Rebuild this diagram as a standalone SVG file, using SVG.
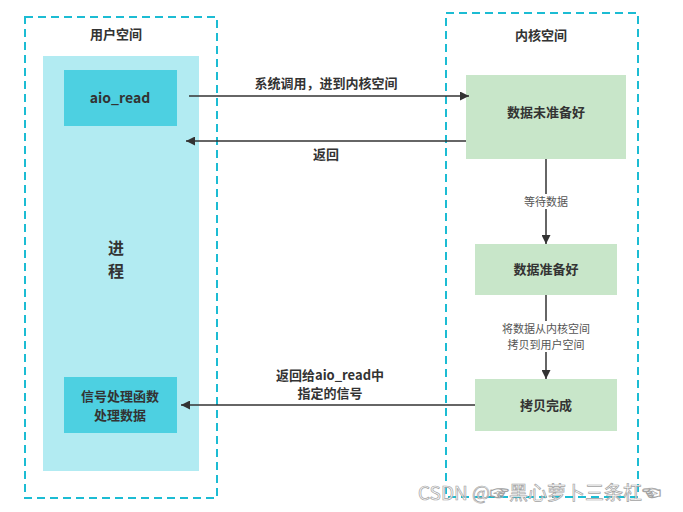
<svg xmlns="http://www.w3.org/2000/svg" width="683" height="512" viewBox="0 0 683 512">
<defs>
<style>
.dash{fill:none;stroke:#1CBCD3;stroke-width:2;stroke-dasharray:8,5}
.t{font-family:"Noto Sans CJK SC","Noto Sans",sans-serif;fill:#333;text-anchor:middle}
.b{font-weight:bold;font-size:13px}
.s{font-size:11px;fill:#555}
.ln{stroke:#333;stroke-width:1.5;fill:none}
.cy{fill:#4DD0E1}
.gr{fill:#C8E6C9}
</style>
<marker id="ah" viewBox="0 0 10 10" refX="10" refY="5" markerWidth="9" markerHeight="9" markerUnits="userSpaceOnUse" orient="auto">
<path d="M0,0 L10,5 L0,10 z" fill="#333"/>
</marker>
</defs>
<rect width="683" height="512" fill="#fff"/>
<g id="user-space">
<rect class="dash" x="25" y="17" width="192" height="481"/>
<text class="t b" x="116" y="39">用户空间</text>
</g>
<g id="kernel-space">
<rect class="dash" x="446" y="13" width="192" height="484"/>
<text class="t b" x="541" y="40">内核空间</text>
</g>
<g id="process">
<rect x="43" y="56" width="156" height="415" fill="#B2EBF2"/>
<text class="t" x="116" y="254" style="font-weight:bold;font-size:16px">进</text>
<text class="t" x="116" y="277" style="font-weight:bold;font-size:16px">程</text>
</g>
<g id="aio_read">
<rect class="cy" x="64" y="70" width="113" height="56"/>
<text class="t" x="120" y="103" style="font-weight:bold;font-size:14px">aio_read</text>
</g>
<g id="signal">
<rect class="cy" x="64" y="377" width="113" height="56"/>
<text class="t b" x="120" y="401">信号处理函数</text>
<text class="t b" x="120" y="420">处理数据</text>
</g>
<g id="not-ready">
<rect class="gr" x="466" y="75" width="160" height="84"/>
<text class="t b" x="546" y="117">数据未准备好</text>
</g>
<g id="ready">
<rect class="gr" x="475" y="244" width="142" height="51"/>
<text class="t b" x="546" y="274">数据准备好</text>
</g>
<g id="copied">
<rect class="gr" x="475" y="379" width="142" height="52"/>
<text class="t b" x="546" y="410">拷贝完成</text>
</g>
<g id="connectors">
<line class="ln" x1="189" y1="96" x2="469" y2="96" marker-end="url(#ah)"/>
<text class="t b" x="326" y="88">系统调用，进到内核空间</text>
<line class="ln" x1="466" y1="141" x2="186" y2="141" marker-end="url(#ah)"/>
<text class="t b" x="326" y="159">返回</text>
<line class="ln" x1="546" y1="159" x2="546" y2="244" marker-end="url(#ah)"/>
<rect x="520" y="194" width="52" height="15" fill="#fff"/>
<text class="t s" x="546" y="206">等待数据</text>
<line class="ln" x1="546" y1="295" x2="546" y2="379" marker-end="url(#ah)"/>
<rect x="499" y="321" width="94" height="31" fill="#fff"/>
<text class="t s" x="546" y="333">将数据从内核空间</text>
<text class="t s" x="546" y="349">拷贝到用户空间</text>
<line class="ln" x1="475" y1="405" x2="181" y2="405" marker-end="url(#ah)"/>
<text class="t b" x="330" y="380">返回给aio_read中</text>
<text class="t b" x="330" y="398">指定的信号</text>
</g>
<text x="418" y="500" style="font-family:'Noto Sans CJK SC','Noto Sans',sans-serif;font-size:19px;fill:#fff;stroke:#999;stroke-width:0.7;opacity:0.9">CSDN @☞黑心萝卜三条杠☜</text>
</svg>
